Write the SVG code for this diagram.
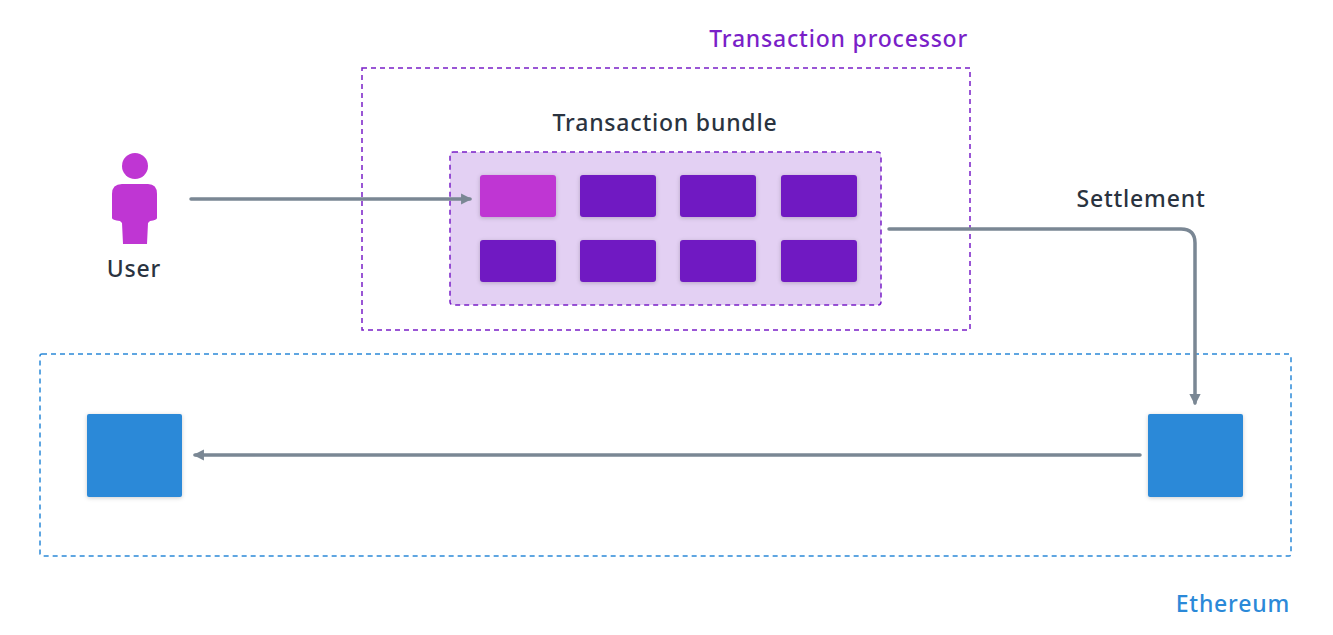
<svg xmlns="http://www.w3.org/2000/svg" width="1333" height="635" viewBox="0 0 1333 635">
<style>
text{font-family:"Noto Sans","Liberation Sans",sans-serif;font-size:23px;font-weight:500;letter-spacing:0.8px;fill:#2a3340}
.tx{fill:#7019c2;filter:drop-shadow(0 1px 2px rgba(0,0,0,0.2))}
.eth{fill:#2b89d8;filter:drop-shadow(0 1px 2px rgba(0,0,0,0.2))}
.conn{fill:none;stroke:#7a8794;stroke-width:3.5;stroke-linecap:round}
</style>
<defs>
<marker id="ah" viewBox="0 0 10 10" refX="8" refY="5" markerWidth="3.2" markerHeight="3.2" orient="auto"><path d="M0,0L10,5L0,10z" fill="#7a8794"/></marker>
</defs>
<rect width="1333" height="635" fill="#fff"/>
<g id="processor">
<rect x="362" y="68" width="608" height="262" fill="none" stroke="#7a1fc8" stroke-width="1.5" stroke-dasharray="5,4"/>
<text x="968" y="47" text-anchor="end" style="fill:#7a1fc8">Transaction processor</text>
</g>
<g id="ethereum">
<rect x="40" y="354" width="1251" height="202" rx="2" fill="none" stroke="#2b89d8" stroke-width="1.5" stroke-dasharray="5,4"/>
<text x="1290" y="612" text-anchor="end" style="fill:#2b89d8">Ethereum</text>
</g>
<g id="bundle">
<rect x="450" y="152" width="431" height="153" rx="3" fill="#e3d0f3" stroke="#7a1fc8" stroke-width="1.5" stroke-dasharray="5,4"/>
<text x="665" y="131" text-anchor="middle">Transaction bundle</text>
<rect x="480" y="175" width="76" height="42" rx="3" class="tx" style="fill:#bf36d3"/>
<rect x="580" y="175" width="76" height="42" rx="3" class="tx"/>
<rect x="680" y="175" width="76" height="42" rx="3" class="tx"/>
<rect x="781" y="175" width="76" height="42" rx="3" class="tx"/>
<rect x="480" y="240" width="76" height="42" rx="3" class="tx"/>
<rect x="580" y="240" width="76" height="42" rx="3" class="tx"/>
<rect x="680" y="240" width="76" height="42" rx="3" class="tx"/>
<rect x="781" y="240" width="76" height="42" rx="3" class="tx"/>
</g>
<g id="user">
<circle cx="135" cy="166" r="13" fill="#bf36d3"/>
<path d="M122,184H148Q157,184 157,194V218Q157,220 150,221L148,223L147,244H123L122,223L120,221Q112,220 112,218V194Q112,184 122,184Z" fill="#bf36d3"/>
<text x="134" y="277" text-anchor="middle">User</text>
</g>
<g id="eth-a"><rect x="87" y="414" width="95" height="83" rx="2" class="eth"/></g>
<g id="eth-b"><rect x="1148" y="414" width="95" height="83" rx="2" class="eth"/></g>
<g id="connectors">
<line x1="191" y1="199" x2="470" y2="199" class="conn" marker-end="url(#ah)"/>
<path d="M889,229H1181Q1195,229 1195,243V403" class="conn" marker-end="url(#ah)"/>
<text x="1141" y="207" text-anchor="middle">Settlement</text>
<line x1="1140" y1="455" x2="195" y2="455" class="conn" marker-end="url(#ah)"/>
</g>
</svg>
